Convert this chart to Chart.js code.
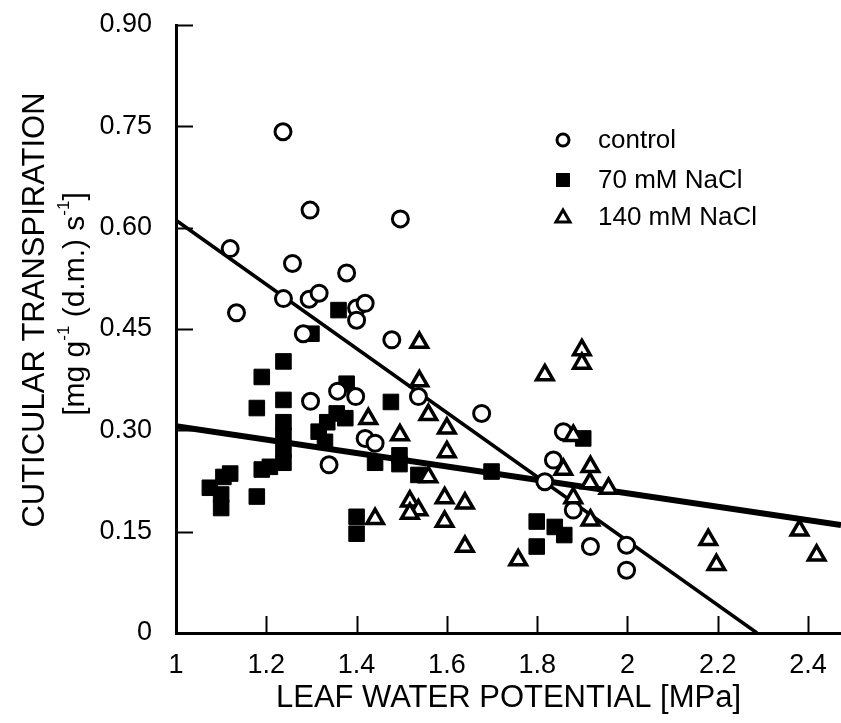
<!DOCTYPE html>
<html>
<head>
<meta charset="utf-8">
<script src="https://cdn.jsdelivr.net/npm/chart.js"></script>
<style>
  body { margin: 0; background: #fff; }
  #wrap { width: 841px; height: 723px; }
</style>
</head>
<body>
<div id="wrap"><canvas id="myChart"></canvas></div>
<script>
const xTicks = [1, 1.2, 1.4, 1.6, 1.8, 2, 2.2, 2.4];
const yTicks = [0, 0.15, 0.30, 0.45, 0.60, 0.75, 0.90];

// control (open circles)
const controlX = [1.237, 1.297, 1.497, 1.120, 1.258, 1.378, 1.238, 1.295, 1.317, 1.134,
  1.400, 1.419, 1.400, 1.282, 1.478, 1.358, 1.398, 1.298, 1.419, 1.441,
  1.339, 1.537, 1.677, 1.858, 1.836, 1.817, 1.880, 1.918, 1.998, 1.998];
const controlY = [0.742, 0.626, 0.613, 0.569, 0.547, 0.533, 0.495, 0.494, 0.503, 0.474,
  0.481, 0.488, 0.463, 0.443, 0.434, 0.358, 0.350, 0.343, 0.288, 0.281,
  0.249, 0.350, 0.325, 0.298, 0.256, 0.224, 0.182, 0.128, 0.130, 0.093];

// 70 mM NaCl (filled squares)
const na70X = [1.075, 1.100, 1.100, 1.105, 1.120, 1.179, 1.179, 1.190, 1.190, 1.208,
  1.238, 1.238, 1.238, 1.238, 1.238, 1.238, 1.300, 1.360, 1.378, 1.356,
  1.335, 1.316, 1.330, 1.375, 1.400, 1.400, 1.441, 1.476, 1.495, 1.495,
  1.537, 1.699, 1.799, 1.839, 1.860, 1.799, 1.902];
const na70Y = [0.215, 0.205, 0.185, 0.231, 0.236, 0.333, 0.202, 0.379, 0.242, 0.246,
  0.402, 0.345, 0.312, 0.292, 0.272, 0.252, 0.443, 0.478, 0.369, 0.325,
  0.312, 0.298, 0.283, 0.318, 0.172, 0.147, 0.252, 0.342, 0.263, 0.250,
  0.234, 0.239, 0.165, 0.157, 0.145, 0.128, 0.288];

// 140 mM NaCl (open triangles)
const na140X = [1.426, 1.496, 1.441, 1.539, 1.539, 1.559, 1.600, 1.600, 1.559, 1.518,
  1.537, 1.518, 1.595, 1.640, 1.595, 1.640, 1.758, 1.817, 1.899, 1.899,
  1.880, 1.858, 1.918, 1.917, 1.958, 1.880, 1.918, 2.179, 2.197, 2.381, 2.419];
const na140Y = [0.317, 0.293, 0.169, 0.430, 0.373, 0.323, 0.303, 0.268, 0.231, 0.195,
  0.182, 0.177, 0.200, 0.192, 0.165, 0.128, 0.108, 0.382, 0.419, 0.399,
  0.292, 0.242, 0.246, 0.222, 0.214, 0.200, 0.167, 0.138, 0.101, 0.152, 0.115];

// regression lines
const fitControlX = [1, 2.287];
const fitControlY = [0.611, 0];
const fit70X = [1, 2.473];
const fit70Y = [0.306, 0.160];

const FONT = '"Liberation Sans", Arial, sans-serif';
const toPoints = (xs, ys) => xs.map((x, i) => ({x: x, y: ys[i]}));

const innerTicks = {
  id: 'innerTicks',
  beforeDatasetsDraw(chart) {
    const {ctx, chartArea, scales} = chart;
    ctx.save();
    ctx.strokeStyle = '#000';
    ctx.lineWidth = 2;
    scales.y.ticks.forEach(t => {
      const py = Math.round(scales.y.getPixelForValue(t.value)) + 0.5;
      ctx.beginPath();
      ctx.moveTo(chartArea.left, py);
      ctx.lineTo(chartArea.left + 17, py);
      ctx.stroke();
    });
    scales.x.ticks.forEach(t => {
      const px = Math.round(scales.x.getPixelForValue(t.value)) + 0.5;
      ctx.beginPath();
      ctx.moveTo(px, chartArea.bottom);
      ctx.lineTo(px, chartArea.bottom - 17);
      ctx.stroke();
    });
    ctx.restore();
  }
};

const yTitle = {
  id: 'yTitle',
  afterDraw(chart) {
    const ctx = chart.ctx;
    const cy = (chart.chartArea.top + chart.chartArea.bottom) / 2 - 19;
    ctx.save();
    ctx.translate(35, cy);
    ctx.rotate(-Math.PI / 2);
    ctx.fillStyle = '#000';
    ctx.textBaseline = 'middle';
    ctx.textAlign = 'center';
    ctx.font = '31px ' + FONT;
    ctx.fillText('CUTICULAR TRANSPIRATION', 0, 0);
    const parts = [['[mg g', 0], ['-1', 1], [' (d.m.) s', 0], ['-1', 1], [']', 0]];
    const big = '30px ' + FONT, small = '17px ' + FONT;
    let w = 0;
    parts.forEach(p => { ctx.font = p[1] ? small : big; w += ctx.measureText(p[0]).width; });
    let x = -w / 2 + 6;
    ctx.textAlign = 'left';
    parts.forEach(p => {
      ctx.font = p[1] ? small : big;
      ctx.fillText(p[0], x, p[1] ? 29 : 41);
      x += ctx.measureText(p[0]).width;
    });
    ctx.restore();
  }
};

const insideLegend = {
  id: 'insideLegend',
  afterDraw(chart) {
    const ctx = chart.ctx;
    const items = chart.data.datasets.filter(d => d.inLegend);
    const ys = [140, 180, 217];
    ctx.save();
    ctx.font = '26px ' + FONT;
    ctx.textBaseline = 'middle';
    items.forEach((d, i) => {
      const cx = 563, cy = ys[i];
      ctx.strokeStyle = '#000';
      ctx.fillStyle = '#000';
      ctx.lineWidth = 3;
      ctx.beginPath();
      if (d.pointStyle === 'circle') {
        ctx.arc(cx, cy, 6, 0, Math.PI * 2);
        ctx.stroke();
      } else if (d.pointStyle === 'rect') {
        ctx.fillRect(cx - 7, cy - 7, 14, 14);
      } else {
        ctx.moveTo(cx, cy - 7);
        ctx.lineTo(cx + 7, cy + 5);
        ctx.lineTo(cx - 7, cy + 5);
        ctx.closePath();
        ctx.stroke();
      }
      ctx.fillText(d.label, 598, cy + 1);
    });
    ctx.restore();
  }
};

new Chart(document.getElementById('myChart'), {
  type: 'scatter',
  data: {
    datasets: [
      {
        label: 'control', inLegend: true, order: 1,
        data: toPoints(controlX, controlY),
        pointStyle: 'circle', pointRadius: 8, borderWidth: 3,
        borderColor: '#000', backgroundColor: '#fff'
      },
      {
        label: '70 mM NaCl', inLegend: true, order: 2,
        data: toPoints(na70X, na70Y),
        pointStyle: 'rect', pointRadius: 11, borderWidth: 1,
        borderColor: '#000', backgroundColor: '#000'
      },
      {
        label: '140 mM NaCl', inLegend: true, order: 0,
        data: toPoints(na140X, na140Y),
        pointStyle: 'triangle', pointRadius: 9.5, borderWidth: 3.5,
        borderColor: '#000', backgroundColor: '#fff'
      },
      {
        type: 'line', label: 'fit control', order: 5,
        data: toPoints(fitControlX, fitControlY),
        borderColor: '#000', borderWidth: 3.5, pointRadius: 0, fill: false
      },
      {
        type: 'line', label: 'fit NaCl', order: 6,
        data: toPoints(fit70X, fit70Y),
        borderColor: '#000', borderWidth: 6, pointRadius: 0, fill: false
      }
    ]
  },
  options: {
    responsive: true,
    maintainAspectRatio: false,
    animation: false,
    events: [],
    layout: { autoPadding: false, padding: { top: 25, right: 0, left: 0, bottom: 0 } },
    plugins: {
      legend: { display: false },
      tooltip: { enabled: false }
    },
    scales: {
      x: {
        type: 'linear', min: 1, max: 2.473,
        afterBuildTicks: s => { s.ticks = xTicks.map(v => ({value: v})); },
        afterFit: s => { s.height = 90; s.paddingLeft = 0; s.paddingRight = 0; },
        ticks: {
          color: '#000', padding: 8, maxRotation: 0,
          font: { size: 27, family: FONT },
          callback: v => String(v)
        },
        grid: { display: false },
        border: { display: true, color: '#000', width: 3 },
        title: {
          display: true, text: 'LEAF WATER POTENTIAL [MPa]', color: '#000',
          font: { size: 31, family: FONT }, padding: { top: 0, bottom: 6 }
        }
      },
      y: {
        type: 'linear', min: 0, max: 0.9,
        afterBuildTicks: s => { s.ticks = yTicks.map(v => ({value: v})); },
        afterFit: s => { s.width = 176; s.paddingTop = 0; s.paddingBottom = 0; },
        ticks: {
          color: '#000', padding: 16,
          font: { size: 27, family: FONT },
          callback: v => v === 0 ? '0' : v.toFixed(2)
        },
        grid: { display: false },
        border: { display: true, color: '#000', width: 3 }
      }
    }
  },
  plugins: [innerTicks, yTitle, insideLegend]
});
</script>
</body>
</html>
